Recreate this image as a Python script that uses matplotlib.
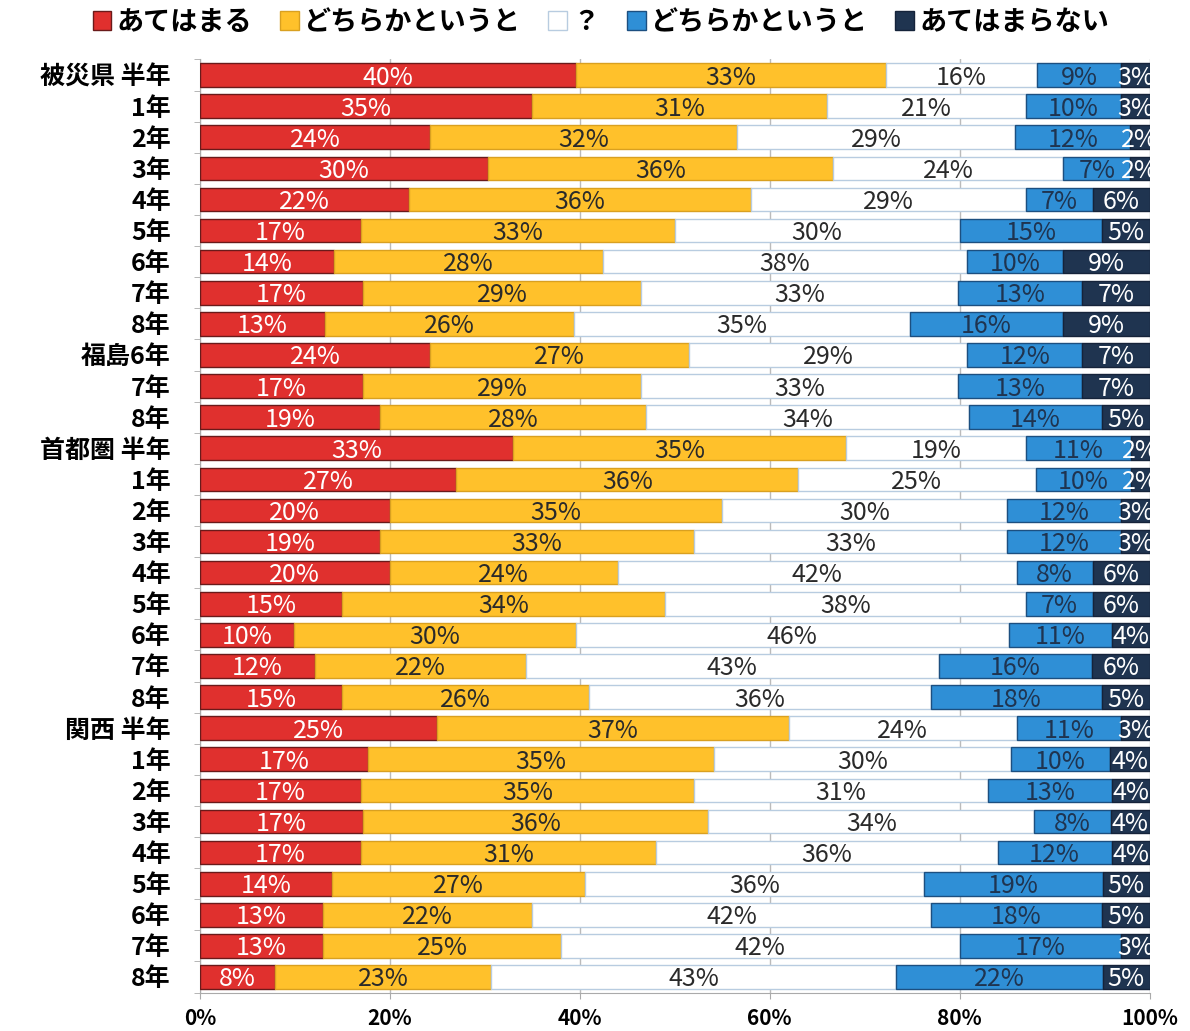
import numpy as np
import matplotlib
matplotlib.use("Agg")
import matplotlib.pyplot as plt
from matplotlib.patches import Patch

plt.rcParams['font.family'] = ['Noto Sans CJK JP', 'DejaVu Sans']

# 行ラベル（上から順）
filas = ['被災県 半年', '1年', '2年', '3年', '4年', '5年', '6年', '7年', '8年',
         '福島6年', '7年', '8年',
         '首都圏 半年', '1年', '2年', '3年', '4年', '5年', '6年', '7年', '8年',
         '関西 半年', '1年', '2年', '3年', '4年', '5年', '6年', '7年', '8年']

categorias = ['あてはまる', 'どちらかというと', '？', 'どちらかというと', 'あてはまらない']

# 各回答の割合（%）
atehamaru = [40, 35, 24, 30, 22, 17, 14, 17, 13,
             24, 17, 19,
             33, 27, 20, 19, 20, 15, 10, 12, 15,
             25, 17, 17, 17, 17, 14, 13, 13, 8]
dochiraka_si = [33, 31, 32, 36, 36, 33, 28, 29, 26,
                27, 29, 28,
                35, 36, 35, 33, 24, 34, 30, 22, 26,
                37, 35, 35, 36, 31, 27, 22, 25, 23]
hatena = [16, 21, 29, 24, 29, 30, 38, 33, 35,
          29, 33, 34,
          19, 25, 30, 33, 42, 38, 46, 43, 36,
          24, 30, 31, 34, 36, 36, 42, 42, 43]
dochiraka_no = [9, 10, 12, 7, 7, 15, 10, 13, 16,
                12, 13, 14,
                11, 10, 12, 12, 8, 7, 11, 16, 18,
                11, 10, 13, 8, 12, 19, 18, 17, 22]
atehamaranai = [3, 3, 2, 2, 6, 5, 9, 7, 9,
                7, 7, 5,
                2, 2, 3, 3, 6, 6, 4, 6, 5,
                3, 4, 4, 4, 4, 5, 5, 3, 5]

series = [atehamaru, dochiraka_si, hatena, dochiraka_no, atehamaranai]
colores = ['#E0302E', '#FFC12B', '#FFFFFF', '#2F8FD6', '#1F3450']
bordes = ['#6A1A1A', '#D9A020', '#B8CCE0', '#1C4F80', '#15233A']
color_texto = ['white', '#2A2A2A', '#2A2A2A', '#1F3450', 'white']

datos = np.array(series, dtype=float)
total = datos.sum(axis=0)
anchos = datos / total * 100  # 100%積み上げ

fig = plt.figure(figsize=(11.9, 10.31), dpi=100)
ax = fig.add_axes([0.168, 0.0373, 0.798, 0.905])

y = np.arange(len(filas))
izq = np.zeros(len(filas))
for i in range(5):
    ax.barh(y, anchos[i], left=izq, height=0.76, color=colores[i],
            edgecolor=bordes[i], linewidth=1.0, zorder=3)
    for j in range(len(filas)):
        ax.text(izq[j] + anchos[i][j] / 2, y[j] + 0.08, f'{series[i][j]}%',
                ha='center', va='center', fontsize=18, color=color_texto[i],
                zorder=4, clip_on=True)
    izq += anchos[i]

ax.set_xlim(0, 100)
ax.set_ylim(len(filas) - 0.5, -0.5)
ax.set_yticks(y)
ax.set_yticklabels(filas, fontsize=18, fontweight='bold')
ax.set_xticks(np.arange(0, 101, 20))
ax.set_xticklabels([f'{v}%' for v in range(0, 101, 20)], fontsize=15,
                   fontweight='bold')
ax.tick_params(axis='y', length=0, pad=21)
ax.tick_params(axis='x', length=4, color='#AAAAAA', pad=7)
ax.set_yticks(np.arange(-0.5, len(filas), 1), minor=True)
ax.tick_params(axis='y', which='minor', length=4, color='#AAAAAA')
ax.grid(axis='x', color='#BBBBBB', linewidth=1, zorder=0)
for lado in ['top', 'right']:
    ax.spines[lado].set_visible(False)
for lado in ['left', 'bottom']:
    ax.spines[lado].set_color('#AAAAAA')

manejadores = [Patch(facecolor=colores[i], edgecolor=bordes[i]) for i in range(5)]
fig.legend(manejadores, categorias, loc='upper center', ncol=5,
           bbox_to_anchor=(0.505, 1.016), frameon=False,
           handlelength=0.7, handleheight=0.7, handletextpad=0.2,
           columnspacing=1.0, prop={'weight': 'bold', 'size': 19.5})

fig.savefig('out.png', dpi=100)
